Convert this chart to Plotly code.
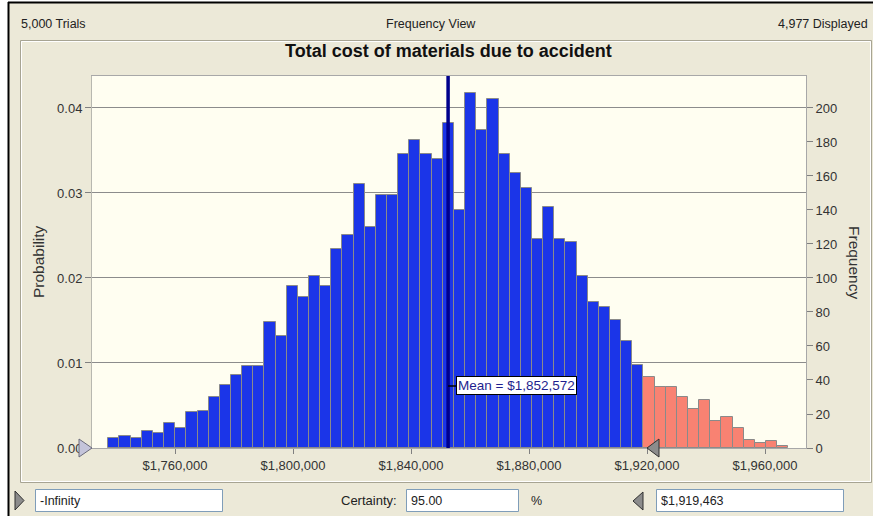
import plotly.graph_objects as go

# ---------------- data ----------------
bin_start = 1737400          # lower edge of first bin ($)
bin_width = 3779             # bin width ($)
frequency = [6, 7, 6, 10, 9, 15, 12, 21, 22, 30, 37, 43, 48, 48, 74, 66, 95, 89, 101, 95,
             117, 125, 155, 130, 149, 149, 173, 181, 173, 170, 191, 140, 209, 187, 205, 173,
             162, 153, 123, 142, 123, 121, 101, 86, 83, 75, 63, 49,
             42, 36, 36, 30, 23, 28, 16, 18, 12, 5, 3, 4, 1]
certainty_upper = 1919463
mean_value = 1852572
trials = 5000
x_ticks = [1760000, 1800000, 1840000, 1880000, 1920000, 1960000]
x_tick_labels = ["$1,760,000", "$1,800,000", "$1,840,000", "$1,880,000", "$1,920,000", "$1,960,000"]
prob_ticks = [0.00, 0.01, 0.02, 0.03, 0.04]
freq_ticks = [0, 20, 40, 60, 80, 100, 120, 140, 160, 180, 200]
header_left = "5,000 Trials"
header_mid = "Frequency View"
header_right = "4,977 Displayed"
chart_title = "Total cost of materials due to accident"
lower_text = "-Infinity"
certainty_text = "95.00"
upper_text = "$1,919,463"

# ---------------- layout helpers ----------------
WIDTH, HEIGHT = 873, 516
PL, PR, PT, PB = 92, 806, 76, 448
PW, PH = PR - PL, PB - PT


def px(x):
    return (x - PL) / PW


def py(y):
    return (PB - y) / PH


BEIGE = "#ECE9D8"
BLUE = "#1B35E8"
SALMON = "#F98272"
FONT = "Liberation Sans, Arial, sans-serif"

centers = [bin_start + bin_width * (i + 0.5) for i in range(len(frequency))]
colors = [BLUE if c < certainty_upper else SALMON for c in centers]

fig = go.Figure()
fig.add_trace(go.Bar(
    x=centers, y=frequency, width=[bin_width] * len(frequency),
    marker=dict(color=colors, line=dict(color="#8A8A8A", width=1)),
    yaxis="y2", hoverinfo="skip", showlegend=False))
# invisible trace so that the left axis is drawn
fig.add_trace(go.Scatter(x=[centers[0]], y=[0], yaxis="y", mode="markers",
                         marker=dict(opacity=0), hoverinfo="skip", showlegend=False))

ymax_freq = 218.8
fig.update_layout(
    width=WIDTH, height=HEIGHT,
    margin=dict(l=PL, r=WIDTH - PR, t=PT, b=HEIGHT - PB, pad=0),
    paper_bgcolor=BEIGE, plot_bgcolor="#FFFEF1",
    font=dict(family=FONT, size=12, color="#333333"),
    bargap=0,
    xaxis=dict(range=[1731864, 1973898], tickvals=x_ticks, ticktext=x_tick_labels,
               ticks="outside", ticklen=5, tickcolor="#808080",
               showgrid=False, zeroline=False, showline=True, linecolor="#A8A8A8",
               mirror=True, tickfont=dict(size=13, color="#333333")),
    yaxis=dict(range=[0, ymax_freq / trials], tickvals=prob_ticks, tickformat=".2f",
               ticks="outside", ticklen=6, tickcolor="#808080", showgrid=True,
               gridcolor="#8C8C8C", gridwidth=1, zeroline=False, showline=True,
               linecolor="#B8B8B0", mirror=True, tickfont=dict(size=13, color="#333333")),
    yaxis2=dict(range=[0, ymax_freq], tickvals=freq_ticks, overlaying="y", side="right",
                ticks="outside", ticklen=6, tickcolor="#808080", showgrid=False,
                zeroline=False, showline=True, linecolor="#A8A8A8",
                tickfont=dict(size=13, color="#333333")),
)

shapes = []
# white margins + black window border
shapes.append(dict(type="rect", xref="paper", yref="paper", x0=px(0), x1=px(8), y0=py(516), y1=py(0),
                   fillcolor="white", line=dict(width=0), layer="below"))
shapes.append(dict(type="rect", xref="paper", yref="paper", x0=px(0), x1=px(873), y0=py(2), y1=py(0),
                   fillcolor="white", line=dict(width=0), layer="below"))
shapes.append(dict(type="line", xref="paper", yref="paper", x0=px(8), x1=px(873), y0=py(2.5), y1=py(2.5),
                   line=dict(color="black", width=2)))
shapes.append(dict(type="line", xref="paper", yref="paper", x0=px(8.5), x1=px(8.5), y0=py(2), y1=py(516),
                   line=dict(color="black", width=2)))
# inner panel
shapes.append(dict(type="rect", xref="paper", yref="paper", x0=px(20.5), x1=px(871.5), y0=py(482.5), y1=py(40.5),
                   line=dict(color="#A7A493", width=1)))
shapes.append(dict(type="rect", xref="paper", yref="paper", x0=px(21.5), x1=px(870.5), y0=py(481.5), y1=py(41.5),
                   line=dict(color="#FFFFFF", width=1)))
# mean line
shapes.append(dict(type="line", xref="x", yref="paper", x0=mean_value, x1=mean_value, y0=0, y1=1,
                   line=dict(color="#00008C", width=3.5)))
# axis markers (triangles)
shapes.append(dict(type="path", xref="paper", yref="paper",
                   path=f"M {px(79)},{py(439)} L {px(92)},{py(448)} L {px(79)},{py(457)} Z",
                   fillcolor="#C4C4DA", line=dict(color="#6A6A7A", width=1)))
shapes.append(dict(type="path", xref="paper", yref="paper",
                   path=f"M {px(659)},{py(439)} L {px(647)},{py(448)} L {px(659)},{py(457)} Z",
                   fillcolor="#8C8C8C", line=dict(color="#303030", width=1)))
# bottom controls
shapes.append(dict(type="path", xref="paper", yref="paper",
                   path=f"M {px(15)},{py(491)} L {px(24)},{py(500.5)} L {px(15)},{py(510)} Z",
                   fillcolor="#8C8C8C", line=dict(color="#303030", width=1)))
shapes.append(dict(type="path", xref="paper", yref="paper",
                   path=f"M {px(643)},{py(492)} L {px(633)},{py(501)} L {px(643)},{py(510)} Z",
                   fillcolor="#8C8C8C", line=dict(color="#303030", width=1)))
for (x0, x1) in [(35.5, 222.5), (406.5, 518.5), (656.5, 843.5)]:
    shapes.append(dict(type="rect", xref="paper", yref="paper", x0=px(x0), x1=px(x1),
                       y0=py(511.5), y1=py(489.5), fillcolor="white",
                       line=dict(color="#7F9DB9", width=1)))
fig.update_layout(shapes=shapes)

ann = []


def text(x, y, s, xa="left", size=12, bold=False, color="#222222", angle=0, family=FONT):
    ann.append(dict(xref="paper", yref="paper", x=px(x), y=py(y), text=f"<b>{s}</b>" if bold else s,
                    showarrow=False, xanchor=xa, yanchor="middle", textangle=angle,
                    font=dict(family=family, size=size, color=color)))


text(19, 24, header_left, "left", 12.5)
text(431, 24, header_mid, "center", 12.5)
text(870, 24, header_right, "right", 12.5)
text(448, 51, chart_title, "center", 18, bold=True, color="#111111")
text(38, 262, "Probability", "center", 15.5, color="#333333", angle=-90)
text(855, 262, "Frequency", "center", 15.5, color="#333333", angle=90)
text(38, 500.5, lower_text, "left", 12.5)
text(399, 500.5, "Certainty:", "right", 13)
text(409, 500.5, certainty_text, "left", 12.5)
text(529, 500.5, "%", "left", 12.5)
text(659, 500.5, upper_text, "left", 12.5)
ann.append(dict(xref="x", yref="y2", x=mean_value, y=36.5, ax=8, ay=0, xanchor="left",
                text=f"Mean = ${mean_value:,}", showarrow=True, arrowhead=0, arrowwidth=1.5,
                arrowcolor="black", bgcolor="white", bordercolor="black", borderwidth=1,
                borderpad=1, font=dict(family=FONT, size=13.5, color="#1E1E8E")))
fig.update_layout(annotations=ann)

fig.write_html("out.html", config={"displayModeBar": False},
               post_script="document.body.style.margin='0';")
